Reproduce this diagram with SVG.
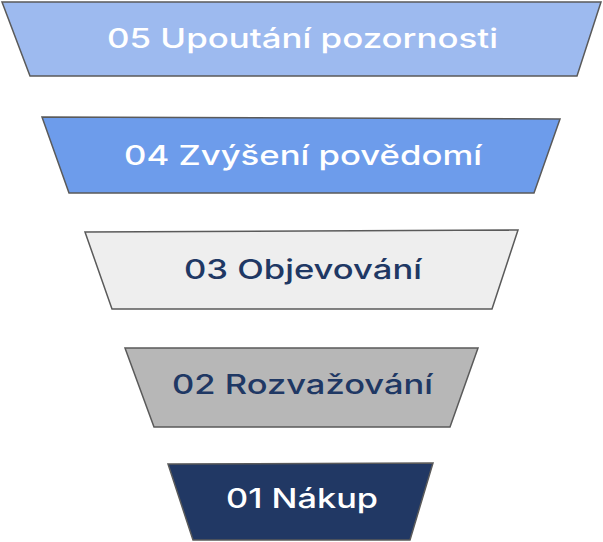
<svg xmlns="http://www.w3.org/2000/svg" width="603" height="542" viewBox="0 0 603 542">
<style>
.s{stroke:#5a5a5a;stroke-width:1.5;stroke-linejoin:miter}
.t{font-family:Inter,"Noto Sans","Liberation Sans",sans-serif;font-size:27px;font-weight:500;text-anchor:start}
.w{fill:#ffffff}
.d{fill:#1f3864}
</style>
<rect width="603" height="542" fill="#ffffff"/>
<g id="connectors"></g>
<g id="n5">
<polygon class="s" fill="#9dbaef" points="2,2 601,2 577,76 30,76"/>
<text class="t w" x="107" y="48" textLength="391" lengthAdjust="spacingAndGlyphs">05 Upoutání pozornosti</text>
</g>
<g id="n4">
<polygon class="s" fill="#6d9ceb" points="42,117 560,119 534,193 69,193"/>
<text class="t w" x="124" y="165" textLength="358" lengthAdjust="spacingAndGlyphs">04 Zvýšení povědomí</text>
</g>
<g id="n3">
<polygon class="s" fill="#eeeeee" points="85,232 518,230 492,309 112,309"/>
<text class="t d" x="184" y="279" textLength="238" lengthAdjust="spacingAndGlyphs">03 Objevování</text>
</g>
<g id="n2">
<polygon class="s" fill="#b7b7b7" points="125,348 478,348 450,427 154,427"/>
<text class="t d" x="172" y="394" textLength="261" lengthAdjust="spacingAndGlyphs">02 Rozvažování</text>
</g>
<g id="n1">
<polygon class="s" fill="#213864" points="168,464 433,463 410,540 193,540"/>
<text class="t w" x="226" y="508" textLength="152" lengthAdjust="spacingAndGlyphs">01 Nákup</text>
</g>
</svg>
